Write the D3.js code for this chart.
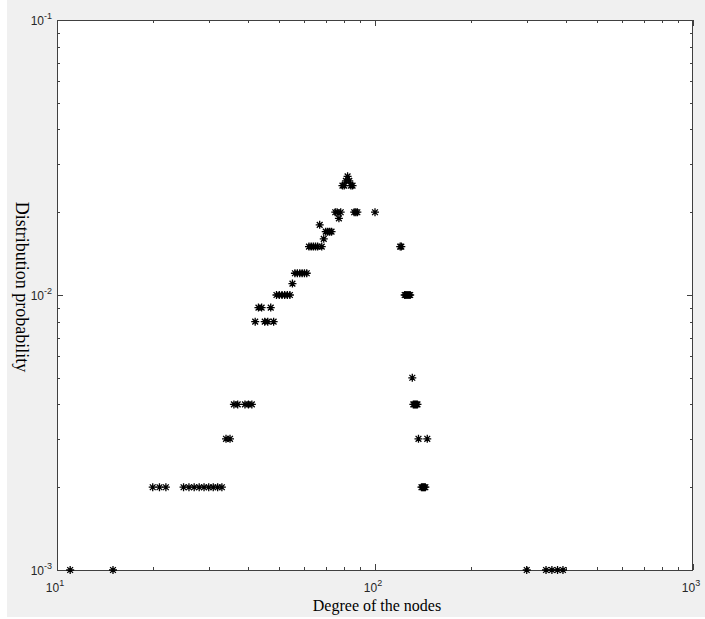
<!DOCTYPE html>
<html>
<head>
<meta charset="utf-8">
<script src="https://cdn.jsdelivr.net/npm/d3@7"></script>
<style>
  body { margin: 0; background: #fff; }
  svg { display: block; }
</style>
</head>
<body>
<svg id="chart"></svg>
<script>
// Degree / probability pairs
const degrees = [
  11, 15, 300, 345, 360, 375, 390,                 // p = 0.001
  20, 21, 22, 25, 26, 27, 28, 29, 30, 31, 32, 33,  // p = 0.002
  140, 141, 142, 143, 144,
  34, 35, 137, 146,                                // p = 0.003
  36, 37, 39, 40, 41, 132, 133, 134, 135, 136,     // p = 0.004
  131,                                             // p = 0.005
  42, 45, 46, 48,                                  // p = 0.008
  43, 44, 47,                                      // p = 0.009
  49, 50, 51, 52, 53, 54, 124, 125, 126, 127, 128, 129, // p = 0.010
  55,                                              // p = 0.011
  56, 57, 58, 59, 60, 61,                          // p = 0.012
  62, 63, 64, 65, 66, 68, 120, 121,                // p = 0.015
  69,                                              // p = 0.016
  70, 71, 72, 73,                                  // p = 0.017
  67,                                              // p = 0.018
  77,                                              // p = 0.019
  75, 76, 78, 86, 87, 88, 100,                     // p = 0.020
  79, 80, 84, 85,                                  // p = 0.025
  81, 83,                                          // p = 0.026
  82                                               // p = 0.027
];
const probCounts = [
  [0.001, 7], [0.002, 17], [0.003, 4], [0.004, 10], [0.005, 1],
  [0.008, 4], [0.009, 3], [0.010, 12], [0.011, 1], [0.012, 6],
  [0.015, 8], [0.016, 1], [0.017, 4], [0.018, 1], [0.019, 1],
  [0.020, 7], [0.025, 4], [0.026, 2], [0.027, 1]
];
const xTicks = [10, 100, 1000];
const yTicks = [0.001, 0.01, 0.1];

// expand probability groups to one value per degree
const probs = [];
probCounts.forEach(([p, n]) => { for (let i = 0; i < n; i++) probs.push(p); });
const points = degrees.map((d, i) => ({ d: d, p: probs[i] }));

const width = 705, height = 619;
const plotL = 57, plotR = 693, plotT = 20, plotB = 570;

const svg = d3.select("#chart")
    .attr("width", width)
    .attr("height", height);

// grey figure background, white axes area
svg.append("rect")
    .attr("x", 7).attr("y", 0)
    .attr("width", 698).attr("height", 617)
    .attr("fill", "#f0f0f0");
svg.append("rect")
    .attr("x", plotL).attr("y", plotT)
    .attr("width", plotR - plotL).attr("height", plotB - plotT)
    .attr("fill", "#fff");

const x = d3.scaleLog().domain([10, 1000]).range([plotL, plotR]);
const y = d3.scaleLog().domain([0.001, 0.1]).range([plotB, plotT]);

// minor + major ticks, drawn inward on all four sides
function logTicks(lo, hi) {
  const out = [];
  for (let dec = lo; dec < hi * 0.999; dec *= 10) {
    for (let k = 1; k < 10; k++) out.push({ v: dec * k, major: k === 1 });
  }
  out.push({ v: hi, major: true });
  return out;
}
const axisColor = "#404040";
const tickG = svg.append("g").attr("stroke", axisColor).attr("stroke-width", 1);

logTicks(10, 1000).forEach(t => {
  const px = Math.round(x(t.v)) + 0.5;
  const len = t.major ? 6 : 3;
  tickG.append("line").attr("x1", px).attr("x2", px).attr("y1", plotB).attr("y2", plotB - len);
  tickG.append("line").attr("x1", px).attr("x2", px).attr("y1", plotT).attr("y2", plotT + len);
});
logTicks(0.001, 0.1).forEach(t => {
  const py = Math.round(y(t.v)) + 0.5;
  const len = t.major ? 6 : 3;
  tickG.append("line").attr("y1", py).attr("y2", py).attr("x1", plotL).attr("x2", plotL + len);
  tickG.append("line").attr("y1", py).attr("y2", py).attr("x1", plotR).attr("x2", plotR - len);
});

// box
svg.append("rect")
    .attr("x", plotL + 0.5).attr("y", plotT + 0.5)
    .attr("width", plotR - plotL - 1).attr("height", plotB - plotT)
    .attr("fill", "none")
    .attr("stroke", axisColor)
    .attr("stroke-width", 1);

// tick labels as 10^n
function powerLabel(g, v, px, py, anchor) {
  const t = g.append("text")
      .attr("x", px).attr("y", py)
      .attr("text-anchor", anchor)
      .attr("font-family", "Liberation Sans, Arial, sans-serif")
      .attr("font-size", 12)
      .attr("fill", "#262626");
  t.append("tspan").text("10");
  t.append("tspan")
      .attr("dy", -6)
      .attr("font-size", 9)
      .text(String(Math.round(Math.log10(v))));
}
const labelG = svg.append("g");
xTicks.forEach(v => powerLabel(labelG, v, x(v) - 2, plotB + 22, "middle"));
yTicks.forEach(v => powerLabel(labelG, v, plotL - 5, y(v) + 5, "end"));

// axis titles
svg.append("text")
    .attr("x", (plotL + plotR) / 2 + 2)
    .attr("y", 611)
    .attr("text-anchor", "middle")
    .attr("font-family", "Liberation Serif, Times New Roman, serif")
    .attr("font-size", 16)
    .attr("fill", "#000")
    .text("Degree of the nodes");

svg.append("text")
    .attr("transform", "translate(16,287) rotate(90)")
    .attr("text-anchor", "middle")
    .attr("font-family", "Liberation Serif, Times New Roman, serif")
    .attr("font-size", 18)
    .attr("fill", "#000")
    .text("Distribution probability");

// asterisk markers
const r = 4, rd = r * 0.72;
const star = `M${-r},0L${r},0M0,${-r}L0,${r}M${-rd},${-rd}L${rd},${rd}M${-rd},${rd}L${rd},${-rd}`;

svg.append("g")
    .selectAll("path")
    .data(points)
    .enter()
    .append("path")
    .attr("d", star)
    .attr("transform", d => `translate(${x(d.d)},${y(d.p)})`)
    .attr("fill", "none")
    .attr("stroke", "#000")
    .attr("stroke-width", 1.3);
</script>
</body>
</html>
